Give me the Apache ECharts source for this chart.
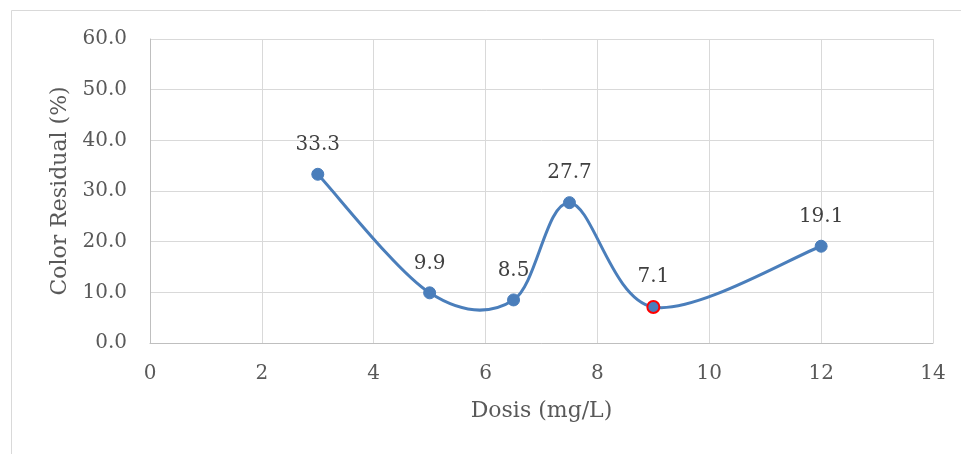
<!DOCTYPE html>
<html><head><meta charset="utf-8">
<script src="https://cdn.jsdelivr.net/npm/echarts@6/dist/echarts.min.js"></script>
<style>html,body{margin:0;padding:0;background:#fff}#c{width:961px;height:454px}</style>
</head><body><div id="c"></div>
<script>
const dosis = [3, 5, 6.5, 7.5, 9, 12];
const residual = [33.3, 9.9, 8.5, 27.7, 7.1, 19.1];
const highlightIndex = 4;
const xTitle = 'Dosis (mg/L)';
const yTitle = 'Color Residual (%)';

const font = 'DejaVu Serif';
const blue = '#4a7ebb';
const pairs = dosis.map((x, i) => [x, residual[i]]);
const data = pairs.map((v, i) => {
  const d = { value: v };
  if (i === highlightIndex) d.itemStyle = { color: blue, borderColor: '#ff0000', borderWidth: 2 };
  return d;
});

// Excel-like smoothed curve (Catmull-Rom style Bezier) through points mapped by the axes
function renderCurve(params, api) {
  if (params.dataIndex !== 0) return null;
  const pts = pairs.map(v => api.coord(v));
  const n = pts.length;
  const children = [];
  for (let i = 0; i < n - 1; i++) {
    const p0 = pts[Math.max(i - 1, 0)], p1 = pts[i], p2 = pts[i + 1], p3 = pts[Math.min(i + 2, n - 1)];
    const c1 = [p1[0] + (p2[0] - p0[0]) / 6, p1[1] + (p2[1] - p0[1]) / 6];
    const c2 = [p2[0] - (p3[0] - p1[0]) / 6, p2[1] - (p3[1] - p1[1]) / 6];
    children.push({
      type: 'bezierCurve',
      shape: { x1: p1[0], y1: p1[1], cpx1: c1[0], cpy1: c1[1], cpx2: c2[0], cpy2: c2[1], x2: p2[0], y2: p2[1] },
      style: { stroke: blue, lineWidth: 3, fill: null, lineCap: 'round' }
    });
  }
  return { type: 'group', children };
}

const chart = echarts.init(document.getElementById('c'), null, { renderer: 'canvas' });
chart.setOption({
  animation: false,
  backgroundColor: '#fff',
  graphic: [
    { type: 'line', shape: { x1: 11.5, y1: 10.5, x2: 961, y2: 10.5 }, style: { stroke: '#d9d9d9', lineWidth: 1 } },
    { type: 'line', shape: { x1: 11.5, y1: 10.5, x2: 11.5, y2: 454 }, style: { stroke: '#d9d9d9', lineWidth: 1 } }
  ],
  grid: { left: 150, right: 28, top: 39, bottom: 111, containLabel: false },
  xAxis: {
    type: 'value', min: 0, max: 14, interval: 2,
    name: xTitle, nameLocation: 'middle', nameGap: 57,
    nameTextStyle: { fontFamily: font, fontSize: 22, color: '#595959' },
    axisLine: { show: true, lineStyle: { color: '#bfbfbf', width: 1 } },
    axisTick: { show: false },
    axisLabel: { fontFamily: font, fontSize: 20, color: '#595959', margin: 21 },
    splitLine: { show: true, lineStyle: { color: '#d9d9d9', width: 1 } }
  },
  yAxis: {
    type: 'value', min: 0, max: 60, interval: 10,
    name: yTitle, nameLocation: 'middle', nameGap: 79, nameRotate: 90,
    nameTextStyle: { fontFamily: font, fontSize: 22, color: '#595959' },
    axisLine: { show: true, lineStyle: { color: '#bfbfbf', width: 1 } },
    axisTick: { show: false },
    axisLabel: { fontFamily: font, fontSize: 20, color: '#595959', margin: 23, formatter: v => v.toFixed(1) },
    splitLine: { show: true, lineStyle: { color: '#d9d9d9', width: 1 } }
  },
  series: [{
    type: 'custom',
    data: pairs,
    renderItem: renderCurve,
    z: 1,
    silent: true
  }, {
    type: 'line',
    data: data,
    z: 3,
    symbol: 'circle',
    symbolSize: 12,
    lineStyle: { width: 0, opacity: 0 },
    itemStyle: { color: blue, borderColor: blue, borderWidth: 1 },
    label: {
      show: true, position: 'top', distance: 13,
      fontFamily: font, fontSize: 20, color: '#404040',
      formatter: p => p.value[1].toFixed(1)
    }
  }]
});
</script></body></html>
